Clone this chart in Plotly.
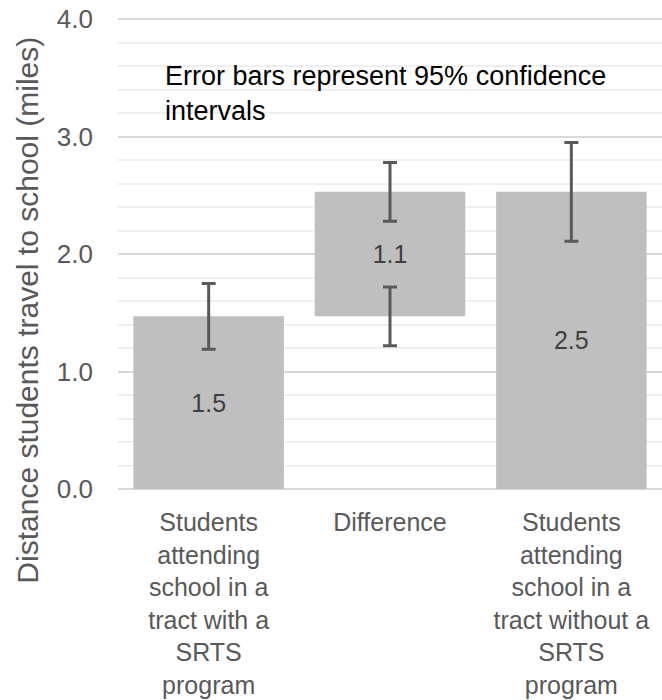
import plotly.graph_objects as go

categories = [
    "Students<br>attending<br>school in a<br>tract with a<br>SRTS<br>program",
    "Difference",
    "Students<br>attending<br>school in a<br>tract without a<br>SRTS<br>program",
]
with_srts = 1.47
without_srts = 2.53
difference = 1.06
err_with = 0.28
err_diff = 0.25
err_without = 0.42

bar_values = [with_srts, difference, without_srts]
bar_bases = [0, with_srts, 0]

FONT = "Liberation Sans, Arial, Helvetica, sans-serif"
GREY_TXT = "#595959"
ERR_COL = "#595959"

fig = go.Figure()

fig.add_trace(go.Bar(
    x=categories, y=bar_values, base=bar_bases,
    marker=dict(color="#bfbfbf", line=dict(width=0)),
    width=0.83,
    texttemplate="%{y:.1f}", textposition="inside", insidetextanchor="middle",
    textfont=dict(family=FONT, size=25, color="#404040"),
    showlegend=False, hoverinfo="skip",
))

# error bars
err_x = [categories[0], categories[1], categories[1], categories[2]]
err_y = [with_srts, with_srts + difference, with_srts, without_srts]
err_v = [err_with, err_diff, err_diff, err_without]
fig.add_trace(go.Scatter(
    x=err_x, y=err_y, mode="markers",
    marker=dict(size=0.1, color="rgba(0,0,0,0)"),
    error_y=dict(type="data", array=err_v, symmetric=True,
                 color=ERR_COL, thickness=3, width=7),
    showlegend=False, hoverinfo="skip",
))

fig.add_annotation(
    text="Error bars represent 95% confidence<br>intervals",
    xref="paper", yref="y", x=0.0827, y=3.66,
    xanchor="left", yanchor="top", align="left", showarrow=False,
    font=dict(family=FONT, size=27, color="#000000"),
)

fig.add_annotation(
    text="Distance students travel to school (miles)",
    xref="paper", yref="paper", x=-0.167, y=0.379,
    xanchor="center", yanchor="middle", textangle=-90, showarrow=False,
    font=dict(family=FONT, size=30, color=GREY_TXT),
)

fig.update_layout(
    width=662, height=700,
    margin=dict(l=118, r=0, t=18, b=211, autoexpand=False),
    paper_bgcolor="white", plot_bgcolor="white",
    font=dict(family=FONT, color=GREY_TXT),
    xaxis=dict(
        range=[-0.5, 2.5], showgrid=False, showline=False, ticks="",
        tickfont=dict(family=FONT, size=25, color=GREY_TXT),
        ticklabelstandoff=16, automargin=False,
    ),
    yaxis=dict(
        range=[0, 4.01], tickvals=[0, 1, 2, 3, 4], tickformat=".1f",
        showline=False, ticks="", ticklabeloverflow="allow",
        showgrid=True, gridcolor="#d9d9d9", gridwidth=2,
        zeroline=True, zerolinecolor="#d9d9d9", zerolinewidth=2,
        minor=dict(tick0=0, dtick=0.2, showgrid=True, gridcolor="#efefef", gridwidth=2),
        tickfont=dict(family=FONT, size=26, color=GREY_TXT),
        ticklabelstandoff=24, automargin=False,
    ),
)

fig.write_html(
    "out.html",
    config={"displayModeBar": False, "staticPlot": True},
    post_script="document.body.style.margin='0px';document.body.style.overflow='hidden';",
)
